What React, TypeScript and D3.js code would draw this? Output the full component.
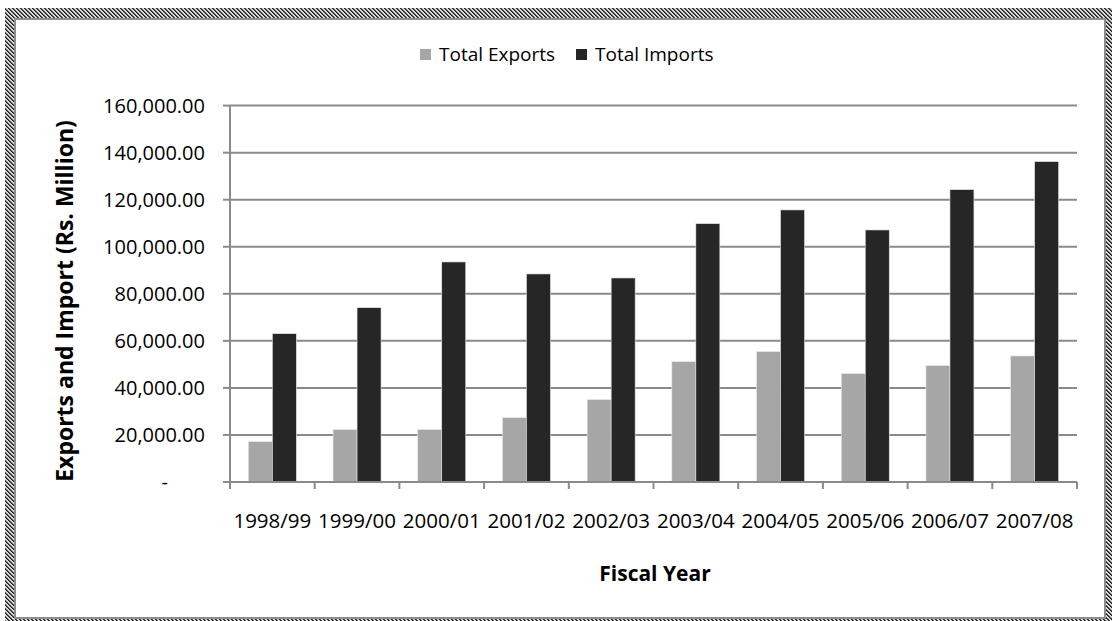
import React from "react";
import * as d3 from "d3";

const categories = ["1998/99","1999/00","2000/01","2001/02","2002/03","2003/04","2004/05","2005/06","2006/07","2007/08"];
const exportsValues = [17130, 22240, 22300, 27340, 35000, 51150, 55400, 46050, 49450, 53570];
const importsValues = [63050, 74100, 93540, 88440, 86730, 109820, 115650, 107140, 124280, 136190];
const seriesNames = ["Total Exports", "Total Imports"];
const seriesColors = ["#a6a6a6", "#262626"];
const yTicks = [0, 20000, 40000, 60000, 80000, 100000, 120000, 140000, 160000];

const W = 1112, H = 621;
const left = 230, right = 1077, top = 105.6, bottom = 482;
const FONT = "'Open Sans', Calibri, sans-serif";

export default function App() {
  const x = d3.scaleBand<string>().domain(categories).range([left, right]).paddingInner(0).paddingOuter(0);
  const inner = d3.scaleBand<string>().domain(seriesNames).range([0, x.bandwidth()]).paddingInner(0).paddingOuter(0.765);
  const y = d3.scaleLinear().domain([0, 160000]).range([bottom, top]);
  const fmt = d3.format(",.2f");
  const series = [exportsValues, importsValues];
  const gridColor = "#8a8a8a";
  const boundaries = categories.map((c) => x(c) as number).concat([right]);

  return (
    <svg width={W} height={H} style={{ position: "absolute", left: 0, top: 0, background: "#fff" }} fontFamily={FONT}>
      <defs>
        <pattern id="frame" width="4" height="4" patternUnits="userSpaceOnUse">
          <rect width="4" height="4" fill="#d8d8d8" />
          <rect x="0" y="0" width="1" height="1" fill="#222" />
          <rect x="1" y="1" width="1" height="1" fill="#222" />
          <rect x="2" y="2" width="1" height="1" fill="#222" />
          <rect x="3" y="3" width="1" height="1" fill="#222" />
          <rect x="1" y="0" width="1" height="1" fill="#555" />
          <rect x="2" y="1" width="1" height="1" fill="#555" />
          <rect x="3" y="2" width="1" height="1" fill="#555" />
          <rect x="0" y="3" width="1" height="1" fill="#555" />
        </pattern>
      </defs>
      <rect x={5} y={8} width={W - 5} height={H - 8} fill="url(#frame)" />
      <rect x={15} y={19} width={1090} height={599} fill="#fff" stroke="#8c8c8c" strokeWidth={2} />

      {/* legend */}
      <g fontSize={19} fill="#000">
        <rect x={420} y={49} width={11} height={11} fill={seriesColors[0]} />
        <text x={439} y={61}>{seriesNames[0]}</text>
        <rect x={576} y={49} width={11} height={11} fill={seriesColors[1]} />
        <text x={595} y={61}>{seriesNames[1]}</text>
      </g>

      {/* gridlines */}
      {yTicks.filter((t) => t > 0).map((t) => (
        <line key={t} x1={left} x2={right} y1={y(t)} y2={y(t)} stroke={gridColor} strokeWidth={2} />
      ))}

      {/* bars */}
      {series.map((vals, si) => (
        <g key={si}>
          {categories.map((c, i) => (
            <rect
              key={c}
              x={(x(c) as number) + (inner(seriesNames[si]) as number)}
              y={y(vals[i])}
              width={inner.bandwidth()}
              height={bottom - y(vals[i])}
              fill={seriesColors[si]}
              stroke="#e6e6e6"
              strokeWidth={0.6}
            />
          ))}
        </g>
      ))}

      {/* axes */}
      <line x1={left} x2={right} y1={bottom} y2={bottom} stroke={gridColor} strokeWidth={2} />
      <line x1={left} x2={left} y1={y(160000)} y2={bottom} stroke={gridColor} strokeWidth={2} />
      {yTicks.map((t) => (
        <line key={"yt" + t} x1={left - 7} x2={left} y1={y(t)} y2={y(t)} stroke={gridColor} strokeWidth={2} />
      ))}
      {boundaries.map((bx, i) => (
        <line key={"xt" + i} x1={bx} x2={bx} y1={bottom} y2={bottom + 7} stroke={gridColor} strokeWidth={2} />
      ))}

      {/* y tick labels */}
      <g fontSize={20} fill="#000" textAnchor="end">
        {yTicks.map((t) => (
          <text key={"yl" + t} x={t === 0 ? 168 : 205} y={y(t)} dy="0.35em">
            {t === 0 ? "-" : fmt(t)}
          </text>
        ))}
      </g>

      {/* x tick labels */}
      <g fontSize={20.5} fill="#000" textAnchor="middle">
        {categories.map((c) => (
          <text key={"xl" + c} x={(x(c) as number) + x.bandwidth() / 2} y={528}>{c}</text>
        ))}
      </g>

      {/* axis titles */}
      <text x={655} y={581} textAnchor="middle" fontSize={21} fontWeight="bold">Fiscal Year</text>
      <text transform={`translate(73, 301) rotate(-90)`} textAnchor="middle" fontSize={23} fontWeight="bold">
        Exports and Import (Rs. Million)
      </text>
    </svg>
  );
}
